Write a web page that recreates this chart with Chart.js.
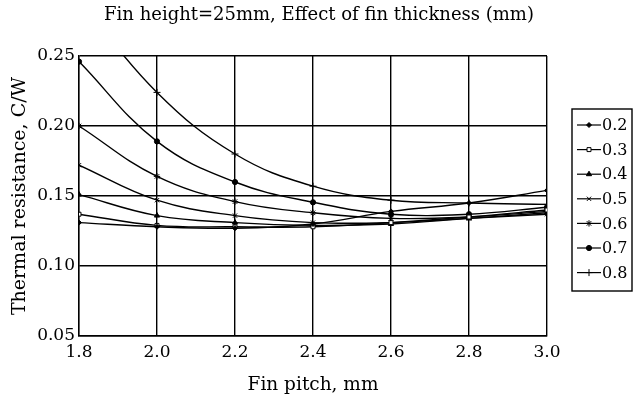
<!DOCTYPE html>
<html>
<head>
<meta charset="utf-8">
<title>Fin thickness</title>
<script src="https://cdn.jsdelivr.net/npm/chart.js"></script>
<style>
  body { margin: 0; background: #fff; }
  canvas { display: block; }
</style>
</head>
<body>
<canvas id="myChart" width="641" height="405"></canvas>
<script>
// fin pitch, mm
const pitches = [1.8, 2.0, 2.2, 2.4, 2.6, 2.8, 3.0];

// thermal resistance C/W, one list per fin thickness (mm)
const t02 = [0.131, 0.128, 0.127, 0.130, 0.139, 0.145, 0.154];
const t03 = [0.137, 0.129, 0.128, 0.128, 0.131, 0.135, 0.140];
const t04 = [0.151, 0.136, 0.131, 0.129, 0.130, 0.134, 0.138];
const t05 = [0.172, 0.147, 0.136, 0.131, 0.131, 0.134, 0.137];
const t06 = [0.200, 0.164, 0.146, 0.138, 0.134, 0.135, 0.139];
const t07 = [0.246, 0.189, 0.160, 0.1455, 0.137, 0.137, 0.142];
const t08 = [0.290, 0.224, 0.180, 0.157, 0.147, 0.145, 0.144];

const seriesNames = ["0.2", "0.3", "0.4", "0.5", "0.6", "0.7", "0.8"];
const seriesValues = [t02, t03, t04, t05, t06, t07, t08];
const markers = ["rectRot", "rect", "triangle", "crossRot", "star", "circle", "cross"];
const markerFill = ["#000", "#fff", "#000", "#000", "#000", "#000", "#000"];
const markerSize = [2.5, 2.8, 3, 3, 3.2, 2.6, 3.5];

const yTicks = [0.05, 0.10, 0.15, 0.20, 0.25];

const chartTitle = "Fin height=25mm, Effect of fin thickness (mm)";
const serif = "'DejaVu Serif', 'Liberation Serif', serif";

const datasets = seriesNames.map((name, i) => ({
  label: name,
  data: pitches.map((p, j) => ({ x: p, y: seriesValues[i][j] })),
  borderColor: "#000",
  borderWidth: 1.4,
  tension: 0.4,
  pointStyle: markers[i],
  pointRadius: markerSize[i],
  pointBackgroundColor: markerFill[i],
  pointBorderColor: "#000",
  pointBorderWidth: 1,
}));

// title over the whole canvas + boxed legend (line + marker + label)
const boxLegend = {
  id: "boxLegend",
  afterDraw(chart) {
    const ctx = chart.ctx;
    ctx.save();
    ctx.fillStyle = "#000";
    ctx.font = "18px " + serif;
    ctx.textAlign = "center";
    ctx.textBaseline = "middle";
    ctx.fillText(chartTitle, 319, 15);

    const left = 572, top = 109, w = 60, h = 182;
    ctx.strokeStyle = "#000";
    ctx.lineWidth = 1.4;
    ctx.strokeRect(left, top, w, h);
    ctx.font = "16px " + serif;
    ctx.textAlign = "left";
    chart.data.datasets.forEach((ds, i) => {
      const y = top + 16 + i * 24.6;
      ctx.strokeStyle = "#000";
      ctx.lineWidth = 1.2;
      ctx.beginPath();
      ctx.moveTo(577, y);
      ctx.lineTo(601, y);
      ctx.stroke();
      ctx.fillStyle = ds.pointBackgroundColor;
      ctx.strokeStyle = "#000";
      ctx.lineWidth = 1;
      Chart.helpers.drawPoint(ctx, {
        pointStyle: ds.pointStyle,
        radius: ds.pointRadius,
        rotation: 0,
        borderWidth: 1,
      }, 589, y);
      ctx.fillStyle = "#000";
      ctx.fillText(ds.label, 602, y + 1);
    });
    ctx.restore();
  },
};

const config = {
  type: "line",
  data: { datasets: datasets },
  options: {
    responsive: false,
    animation: false,
    layout: { padding: { left: 0, right: 94, top: 56, bottom: 0 } },
    plugins: {
      legend: { display: false },
      tooltip: { enabled: false },
    },
    scales: {
      x: {
        type: "linear",
        min: 1.8,
        max: 3.0,
        afterFit(scale) { scale.height = 69; },
        ticks: {
          stepSize: 0.2,
          color: "#000",
          padding: 6,
          font: { family: serif, size: 17 },
          callback: (v) => v.toFixed(1),
        },
        grid: { color: "#000", lineWidth: 1.4, drawTicks: false },
        border: { color: "#000", width: 1.4 },
        title: {
          display: true,
          text: "Fin pitch, mm",
          color: "#000",
          font: { family: serif, size: 18.5, lineHeight: 1.2 },
          padding: { top: 0, bottom: 9 },
        },
      },
      y: {
        min: 0.05,
        max: 0.25,
        afterFit(scale) { scale.width = 79; },
        afterBuildTicks(scale) { scale.ticks = yTicks.map((v) => ({ value: v })); },
        ticks: {
          color: "#000",
          padding: 4,
          font: { family: serif, size: 17 },
          callback: (v) => v.toFixed(2),
        },
        grid: { color: "#000", lineWidth: 1.4, drawTicks: false },
        border: { color: "#000", width: 1.4 },
        title: {
          display: true,
          text: "Thermal resistance, C/W",
          color: "#000",
          font: { family: serif, size: 19, lineHeight: 1.2 },
          padding: { top: 9, bottom: 0 },
        },
      },
    },
  },
  plugins: [boxLegend],
};

const myChart = new Chart(document.getElementById("myChart"), config);
</script>
</body>
</html>
